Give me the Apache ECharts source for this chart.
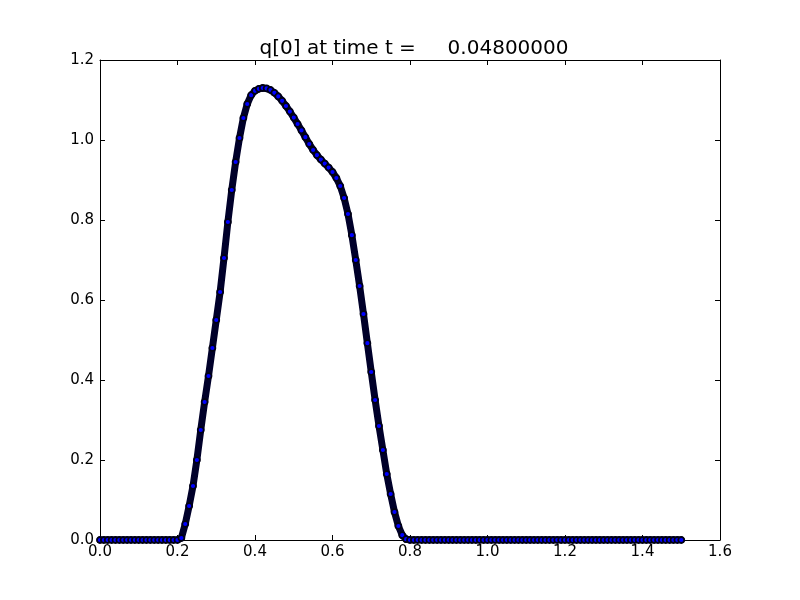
<!DOCTYPE html>
<html>
<head>
<meta charset="utf-8">
<script src="https://cdn.jsdelivr.net/npm/echarts@6/dist/echarts.min.js"></script>
<style>html,body{margin:0;padding:0;background:#fff;}#chart{width:800px;height:600px;}</style>
</head>
<body>
<div id="chart"></div>
<script>
var titleText = 'q[0] at time t =     0.04800000';
var xStep = 0.01;
var xStart = 0.0;
var qValues = [
  0,0,0,0,0,0,0,0,0,0,            // 0.00-0.09
  0,0,0,0,0,0,0,0,0,0,            // 0.10-0.19
  0,0.005,0.04,0.085,0.135,0.20,0.275,0.345,0.41,0.48,   // 0.20-0.29
  0.55,0.62,0.705,0.795,0.875,0.945,1.005,1.055,1.09,1.112, // 0.30-0.39
  1.123,1.128,1.13,1.129,1.125,1.118,1.109,1.098,1.085,1.071, // 0.40-0.49
  1.056,1.04,1.024,1.007,0.99,0.975,0.962,0.951,0.941,0.931, // 0.50-0.59
  0.92,0.905,0.885,0.855,0.815,0.762,0.70,0.635,0.565,0.492, // 0.60-0.69
  0.42,0.35,0.285,0.225,0.165,0.115,0.07,0.035,0.012,0.002,  // 0.70-0.79
  0,0,0,0,0,0,0,0,0,0,            // 0.80-0.89
  0,0,0,0,0,0,0,0,0,0,            // 0.90-0.99
  0,0,0,0,0,0,0,0,0,0,            // 1.00-1.09
  0,0,0,0,0,0,0,0,0,0,            // 1.10-1.19
  0,0,0,0,0,0,0,0,0,0,            // 1.20-1.29
  0,0,0,0,0,0,0,0,0,0,            // 1.30-1.39
  0,0,0,0,0,0,0,0,0,0,            // 1.40-1.49
  0                               // 1.50
];
var xMin = 0, xMax = 1.6, xInterval = 0.2;
var yMin = 0, yMax = 1.2, yInterval = 0.2;

var points = qValues.map(function (v, i) { return [+(xStart + i * xStep).toFixed(2), v]; });

var chart = echarts.init(document.getElementById('chart'), null, {renderer: 'canvas'});
var fontFam = 'DejaVu Sans';
function fmt(v) { return v.toFixed(1); }
var tickStyle = {show: true, inside: true, length: 5, lineStyle: {color: '#000', width: 1}};
var lineStyle = {show: true, onZero: false, lineStyle: {color: '#000', width: 1}};
chart.setOption({
  animation: false,
  backgroundColor: '#fff',
  title: {
    text: titleText,
    left: 409, top: 34, textAlign: 'center',
    textStyle: {fontFamily: fontFam, fontSize: 20, fontWeight: 'normal', color: '#000'}
  },
  grid: {left: 100, top: 60, width: 620, height: 480, containLabel: false},
  xAxis: [
    {type: 'value', min: xMin, max: xMax, interval: xInterval, position: 'bottom',
     axisLine: lineStyle, axisTick: tickStyle, splitLine: {show: false},
     axisLabel: {formatter: fmt, color: '#000', fontFamily: fontFam, fontSize: 15, margin: 5}},
    {type: 'value', min: xMin, max: xMax, interval: xInterval, position: 'top',
     axisLine: lineStyle, axisTick: tickStyle, splitLine: {show: false}, axisLabel: {show: false}}
  ],
  yAxis: [
    {type: 'value', min: yMin, max: yMax, interval: yInterval, position: 'left',
     axisLine: lineStyle, axisTick: tickStyle, splitLine: {show: false},
     axisLabel: {formatter: fmt, color: '#000', fontFamily: fontFam, fontSize: 15, margin: 6}},
    {type: 'value', min: yMin, max: yMax, interval: yInterval, position: 'right',
     axisLine: lineStyle, axisTick: tickStyle, splitLine: {show: false}, axisLabel: {show: false}}
  ],
  series: [{
    type: 'line',
    data: points,
    xAxisIndex: 0, yAxisIndex: 0,
    smooth: false,
    clip: true,
    lineStyle: {color: '#00002a', width: 7, cap: 'round', join: 'round'},
    showSymbol: true,
    showAllSymbol: true,
    symbol: 'circle',
    symbolSize: 6,
    itemStyle: {color: '#0000ff', borderColor: '#000014', borderWidth: 1.8},
    z: 3
  }]
});
</script>
</body>
</html>
